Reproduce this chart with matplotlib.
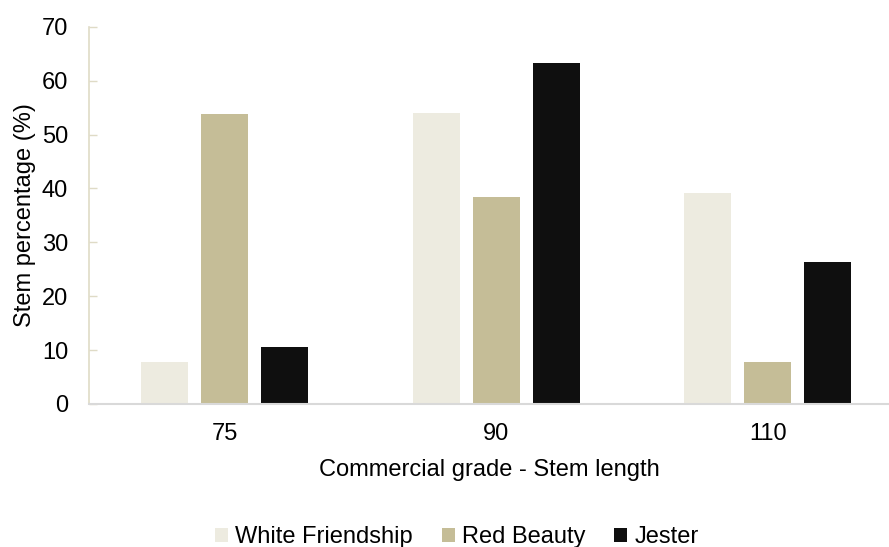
import matplotlib
matplotlib.use("Agg")
import matplotlib.pyplot as plt
import numpy as np
from matplotlib.patches import Patch

plt.rcParams['font.family'] = ['Liberation Sans', 'DejaVu Sans']

categories = ["75", "90", "110"]
series_names = ["White Friendship", "Red Beauty", "Jester"]
white_friendship = [7.8, 53.9, 39.2]
red_beauty = [53.8, 38.4, 7.7]
jester = [10.5, 63.2, 26.3]
colors = ["#EDEBE0", "#C5BD97", "#0F0F0F"]

fig = plt.figure(figsize=(8.89, 5.47), dpi=100)
W, H = 889, 547
ax = fig.add_axes([89 / W, (H - 404) / H, 1 - 89 / W, (404 - 26.7) / H])

x = np.arange(len(categories))
offset = 0.221
width = 0.173
for i, (vals, c) in enumerate(zip([white_friendship, red_beauty, jester], colors)):
    ax.bar(x + (i - 1) * offset, vals, width=width, color=c, label=series_names[i], zorder=2)

ax.set_xlim(-0.5, -0.5 + 800 / 271.5)
ax.set_ylim(0, 70)
ax.set_yticks(range(0, 71, 10))
ax.set_xticks(x)
ax.set_xticklabels(categories)

for s in ["top", "right"]:
    ax.spines[s].set_visible(False)
ax.spines["left"].set_color("#DFDBC6")
ax.spines["left"].set_linewidth(1.2)
ax.spines["bottom"].set_color("#D9D9D9")
ax.spines["bottom"].set_linewidth(1.5)

FS = 17
ax.tick_params(axis="y", direction="in", length=5.5, width=1.0, color="#DFDBC6",
               labelsize=FS, pad=15, labelcolor="#000000")
ax.tick_params(axis="x", length=0, labelsize=FS, pad=14, labelcolor="#000000")

ax.set_ylabel("Stem percentage (%)", fontsize=FS, labelpad=4)
ax.set_xlabel("Commercial grade - Stem length", fontsize=FS, labelpad=10)

handles = [Patch(facecolor=c, edgecolor="none") for c in colors]
fig.legend(handles, series_names, loc="center", bbox_to_anchor=(0.514, 0.018),
           ncol=3, frameon=False, fontsize=FS, handlelength=0.55, handleheight=0.55,
           handletextpad=0.3, columnspacing=1.22)

fig.savefig("out.png", dpi=100)
